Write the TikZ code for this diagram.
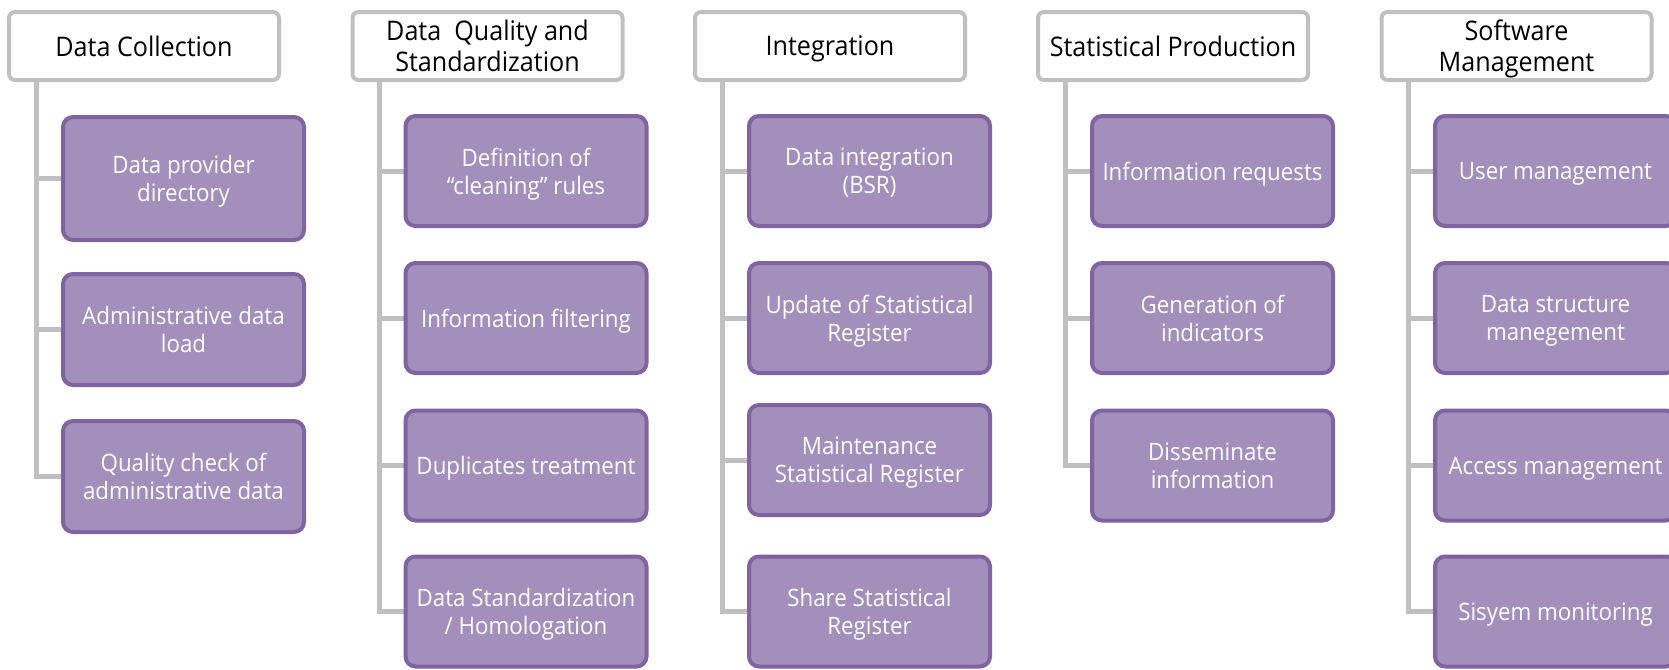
\documentclass[tikz,border=0pt]{standalone}
\usepackage{fontspec}
\setmainfont[FakeStretch=0.93]{Open Sans}
\usetikzlibrary{backgrounds}
\definecolor{boxfill}{RGB}{162,143,187}
\definecolor{boxdraw}{RGB}{128,100,162}
\definecolor{linegray}{RGB}{192,192,192}
\begin{document}
\begin{tikzpicture}[x=0.5pt,y=-0.5pt,
  head/.style={draw=linegray, line width=2pt, fill=white, rounded corners=3pt,
    minimum width=135pt, minimum height=34pt, inner sep=0pt, align=center,
    text depth=0pt, font=\fontsize{13.5}{15.5}\selectfont, text=black},
  item/.style={draw=boxdraw, line width=2pt, fill=boxfill, rounded corners=5pt,
    minimum width=120.5pt, minimum height=55pt, inner sep=0pt, align=center,
    text depth=0pt, font=\fontsize{12}{14}\selectfont, text=white},
  tree/.style={draw=linegray, line width=2.5pt}]
\useasboundingbox (0,0) rectangle (1669,669);

% headers
\node[head] (h1) at (144,46) {Data Collection};
\node[head] (h2) at (487.5,46) {Data\ \ Quality and\\Standardization};
\node[head] (h3) at (830,46) {Integration};
\node[head] (h4) at (1173,46) {Statistical Production};
\node[head] (h5) at (1516.5,46) {Software\\Management};

% column 1
\node[item, minimum height=61.5pt] (b11) at (183.5,178.5) {Data provider\\directory};
\node[item, minimum height=55.5pt] (b12) at (183.5,329.5) {Administrative data\\load};
\node[item, minimum height=55.5pt] (b13) at (183.5,476.5) {Quality check of\\administrative data};

% column 2
\node[item] (b21) at (526,171) {Definition of\\“cleaning” rules};
\node[item] (b22) at (526,318) {Information filtering};
\node[item] (b23) at (526,465.5) {Duplicates treatment};
\node[item] (b24) at (526,611.5) {Data Standardization\\/ Homologation};

% column 3
\node[item] (b31) at (869.5,171) {Data integration\\(BSR)};
\node[item] (b32) at (869.5,318) {Update of Statistical\\Register};
\node[item] (b33) at (869.5,460) {Maintenance\\Statistical Register};
\node[item] (b34) at (869.5,611.5) {Share Statistical\\Register};

% column 4
\node[item] (b41) at (1212.5,171) {Information requests};
\node[item] (b42) at (1212.5,318) {Generation of\\indicators};
\node[item] (b43) at (1212.5,465.5) {Disseminate\\information};

% column 5
\node[item] (b51) at (1555.5,171) {User management};
\node[item] (b52) at (1555.5,318) {Data structure\\manegement};
\node[item] (b53) at (1555.5,465.5) {Access management};
\node[item] (b54) at (1555.5,611.5) {Sisyem monitoring};

\coordinate (v1) at (36,0);
\coordinate (v2) at (379,0);
\coordinate (v3) at (722,0);
\coordinate (v4) at (1065,0);
\coordinate (v5) at (1408,0);

\begin{scope}[on background layer]
  \draw[tree] (h1.south -| v1) |- (b13.west);
  \draw[tree] (v1 |- b11.west) -- (b11.west);
  \draw[tree] (v1 |- b12.west) -- (b12.west);

  \draw[tree] (h2.south -| v2) |- (b24.west);
  \draw[tree] (v2 |- b21.west) -- (b21.west);
  \draw[tree] (v2 |- b22.west) -- (b22.west);
  \draw[tree] (v2 |- b23.west) -- (b23.west);

  \draw[tree] (h3.south -| v3) |- (b34.west);
  \draw[tree] (v3 |- b31.west) -- (b31.west);
  \draw[tree] (v3 |- b32.west) -- (b32.west);
  \draw[tree] (v3 |- b33.west) -- (b33.west);

  \draw[tree] (h4.south -| v4) |- (b43.west);
  \draw[tree] (v4 |- b41.west) -- (b41.west);
  \draw[tree] (v4 |- b42.west) -- (b42.west);

  \draw[tree] (h5.south -| v5) |- (b54.west);
  \draw[tree] (v5 |- b51.west) -- (b51.west);
  \draw[tree] (v5 |- b52.west) -- (b52.west);
  \draw[tree] (v5 |- b53.west) -- (b53.west);
\end{scope}
\end{tikzpicture}
\end{document}
